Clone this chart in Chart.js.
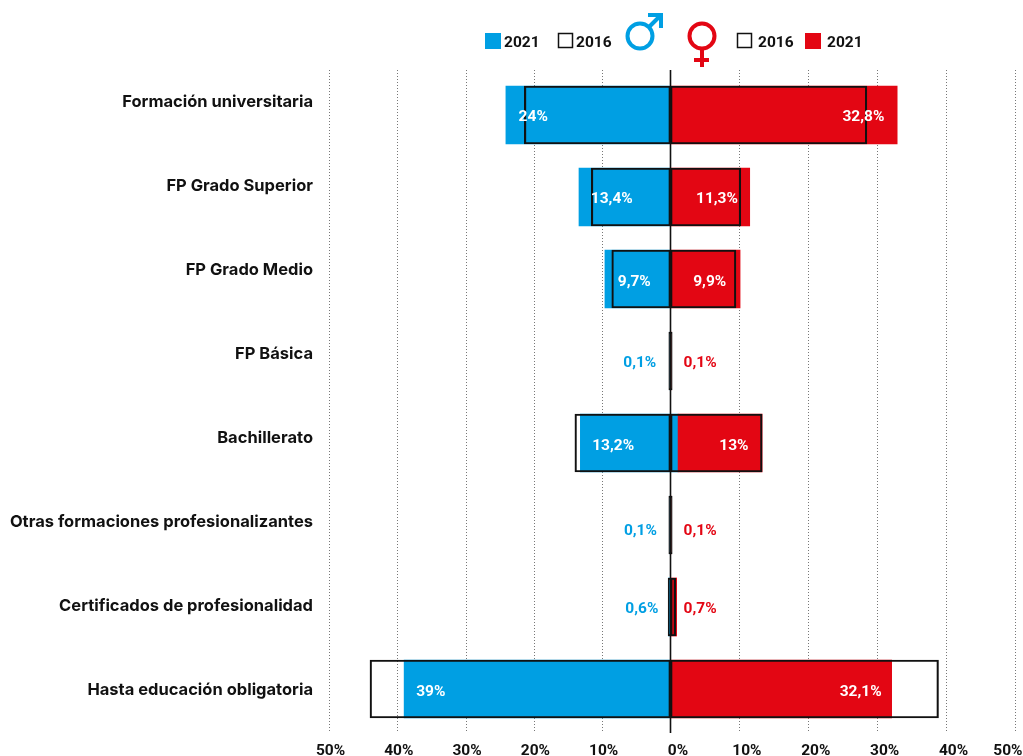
<!DOCTYPE html>
<html><head><meta charset="utf-8">
<style>html,body{margin:0;padding:0;background:#fff}#w{width:1023px;height:756px;position:relative;overflow:hidden}</style>
<script src="https://cdn.jsdelivr.net/npm/chart.js@4/dist/chart.umd.min.js"></script>
</head><body><div id="w"><canvas id="c" width="1023" height="756"></canvas></div>
<script>
const categories = ["Formación universitaria","FP Grado Superior","FP Grado Medio","FP Básica","Bachillerato","Otras formaciones profesionalizantes","Certificados de profesionalidad","Hasta educación obligatoria"];
const hombres2021 = [24.1,13.4,9.6,0.1,13.2,0.1,0.3,39];
const mujeres2021 = [32.9,11.5,10.1,0.1,12.2,0.1,0.9,32.1];
const cruce2021 = [0,0,0,0,1.1,0,0,0];
const hombres2016 = [21.4,11.6,8.6,0.25,14,0.25,0.35,44];
const mujeres2016 = [28.5,10.2,9.5,0.25,13.3,0.25,0.75,38.9];
const etiquetasH = ["24%","13,4%","9,7%","0,1%","13,2%","0,1%","0,6%","39%"];
const etiquetasM = ["32,8%","11,3%","9,9%","0,1%","13%","0,1%","0,7%","32,1%"];
const AZUL="#009FE3", ROJO="#E30613", NEGRO="#111", F="Roboto, sans-serif";
const cfgEtiq = {h:[20.1,8.6,5.3,4.5,8.4,4.4,4.2,35.1], m:[28,6.75,5.7,4.3,9.2,4.3,4.3,27.6], dy:[0,0,1,0,1,4,0,1]};

const pct = v => Math.abs(v)+"%";
const relleno2016 = ctx => Math.abs(ctx.raw)<0.3 ? NEGRO : "transparent";
const deco = {
 id:"deco",
 afterLayout(ch){
  for(const k of ["xL","xR"]){const s=ch.scales[k]; s.top=ch.chartArea.bottom; s.bottom=756; s.height=756-s.top;}
  const l=ch.scales.yLab; l.left=0;l.right=329;l.width=329;l.top=60;l.bottom=732;l.height=672;l.configure();
 },
 beforeDatasetsDraw(ch){
  const c=ch.ctx,{top,bottom}=ch.chartArea;
  c.save();c.strokeStyle="#777";c.lineWidth=1;c.setLineDash([1,2]);
  const line=px=>{const x=Math.round(px)+.5;c.beginPath();c.moveTo(x,top-4);c.lineTo(x,bottom+3);c.stroke();};
  ch.scales.xL.ticks.forEach(t=>{if(t.value<0&&t.value%10===0)line(ch.scales.xL.getPixelForValue(t.value));});
  ch.scales.xR.ticks.forEach(t=>{if(t.value>0&&t.value%10===0)line(ch.scales.xR.getPixelForValue(t.value));});
  c.restore();
 },
 afterDatasetsDraw(ch){
  const c=ch.ctx,{top,bottom}=ch.chartArea,xL=ch.scales.xL,xR=ch.scales.xR,y=ch.scales.y;
  c.save();
  const z=xL.getPixelForValue(0);
  c.strokeStyle=NEGRO;c.lineWidth=1.6;c.beginPath();c.moveTo(z,top-4);c.lineTo(z,bottom+3);c.stroke();
  c.font="700 15.5px "+F;c.textAlign="center";c.textBaseline="middle";
  categories.forEach((_,i)=>{
   const yy=y.getPixelForValue(i)+cfgEtiq.dy[i]+2.5;
   c.fillStyle=hombres2021[i]<1?AZUL:"#fff";
   c.fillText(etiquetasH[i],xL.getPixelForValue(-cfgEtiq.h[i]),yy);
   c.fillStyle=mujeres2021[i]<1?ROJO:"#fff";
   c.fillText(etiquetasM[i],xR.getPixelForValue(cfgEtiq.m[i]),yy);
  });
  // leyenda
  c.font="700 15.5px "+F;c.textAlign="left";c.fillStyle=NEGRO;
  const sq=(x,col)=>{ if(col){c.fillStyle=col;c.fillRect(x,33,16,16);} else {c.strokeStyle=NEGRO;c.lineWidth=1.5;c.strokeRect(x+.5,33.5,14,14);} c.fillStyle=NEGRO; };
  sq(485,AZUL);c.fillText("2021",504,43);
  sq(558,null);c.fillText("2016",576,43);
  sq(737,null);c.fillText("2016",758,43);
  sq(805,ROJO);c.fillText("2021",827,43);
  // símbolos
  c.lineWidth=4;c.strokeStyle=AZUL;c.beginPath();c.arc(640,36,12.5,0,Math.PI*2);c.stroke();
  c.beginPath();c.moveTo(649,27);c.lineTo(661,15);c.stroke();
  c.beginPath();c.moveTo(648,15);c.lineTo(661,15);c.lineTo(661,28);c.stroke();
  c.strokeStyle=ROJO;c.beginPath();c.arc(702,36,12.5,0,Math.PI*2);c.stroke();
  c.beginPath();c.moveTo(702,49);c.lineTo(702,67);c.stroke();
  c.beginPath();c.moveTo(694,60);c.lineTo(709,60);c.stroke();
  c.restore();
 }
};
const fitX = s=>{s.height=13;s.paddingLeft=0;s.paddingRight=0;};
new Chart(document.getElementById("c"),{
 type:"bar",
 data:{labels:categories,datasets:[
  {label:"Hombres 2016",data:hombres2016.map(v=>-v),xAxisID:"xL",order:1,backgroundColor:relleno2016,borderColor:NEGRO,borderWidth:1.5,borderSkipped:false},
  {label:"Mujeres 2016",data:mujeres2016,xAxisID:"xR",order:1,backgroundColor:relleno2016,borderColor:NEGRO,borderWidth:1.5,borderSkipped:false},
  {label:"Mujeres 2021",data:mujeres2021.map((v,i)=>[cruce2021[i],cruce2021[i]+v]),xAxisID:"xR",order:2,backgroundColor:ROJO,borderWidth:0},
  {label:"Hombres 2021",data:hombres2021.map((v,i)=>[-v,cruce2021[i]]),xAxisID:"xL",order:3,backgroundColor:AZUL,borderWidth:0}
 ]},
 options:{
  indexAxis:"y",responsive:false,animation:false,
  layout:{padding:{top:74,right:8,left:0,bottom:0}},
  datasets:{bar:{grouped:false,barThickness:58}},
  plugins:{legend:{display:false},tooltip:{enabled:false}},
  scales:{
   y:{type:"category",display:false},
   yLab:{type:"category",axis:"y",position:"left",labels:categories,grid:{display:false},border:{display:false},
      afterFit(s){s.width=329;},
      ticks:{color:NEGRO,padding:8,font:{family:"Inter, sans-serif",weight:"700",size:16.5}}},
   xL:{type:"linear",axis:"x",position:"bottom",min:-50,max:50.44,afterFit:fitX,
      grid:{display:false},border:{display:false},
      ticks:{stepSize:10,autoSkip:false,maxRotation:0,padding:4,labelOffset:1.5,color:NEGRO,font:{family:F,weight:"700",size:15.5},
        callback:v=>(v<0&&v%10===0)?pct(v):""}},
   xR:{type:"linear",axis:"x",position:"bottom",min:-49.56,max:50,afterFit:fitX,
      grid:{display:false},border:{display:false},
      ticks:{stepSize:10,autoSkip:false,maxRotation:0,padding:4,labelOffset:7.5,align:"inner",color:NEGRO,font:{family:F,weight:"700",size:15.5},
        callback:v=>(v>=0&&v%10===0)?pct(v):""}}
  }
 },
 plugins:[deco]
});
</script></body></html>
